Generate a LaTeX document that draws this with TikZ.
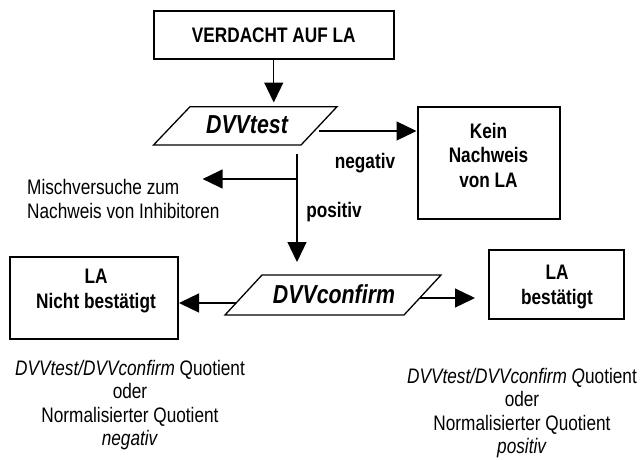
\documentclass[tikz,border=0pt]{standalone}
\usepackage{fontspec}
\setmainfont{Liberation Sans}[FakeStretch=0.82]
\usetikzlibrary{arrows.meta}
\begin{document}
\begin{tikzpicture}[x=1pt,y=-1pt,
  every node/.style={font=\fontsize{21}{24.5}\selectfont, inner sep=0pt, align=center},
  rbox/.style={draw, line width=2pt},
  para/.style={draw, line width=1.3pt, line join=miter},
  lbl/.style={font=\fontsize{21}{24.5}\selectfont\bfseries},
  plain/.style={font=\fontsize{21}{24.5}\selectfont},
  qtext/.style={font=\fontsize{21}{23.5}\selectfont},
  ptext/.style={font=\fontsize{26}{28}\selectfont\bfseries\itshape},
  arr/.style={-{Triangle[length=20pt,width=19pt]}, line width=1.3pt}]
\useasboundingbox (0,0) rectangle (642,460);
% boxes
\node[rbox, minimum width=240.5pt, minimum height=48.6pt, lbl] (verd) at (273.75,35) {VERDACHT AUF LA};
\draw[para] (190,106.7) coordinate (tTL) -- (337,106.7) coordinate (tTR) -- (301,145) coordinate (tBR) -- (153.5,145) coordinate (tBL) -- cycle;
\node[ptext] (testtxt) at (247,125) {DVVtest};
\node[rbox, minimum width=142pt, minimum height=112.3pt] (kein) at (488.5,163) {};
\node[lbl] (keintxt) at (488.5,155) {Kein\\Nachweis\\von LA};
\draw[para] (262,275) coordinate (cTL) -- (441,275) coordinate (cTR) -- (404,315) coordinate (cBR) -- (225,315) coordinate (cBL) -- cycle;
\node[ptext] (conftxt) at (334,294) {DVVconfirm};
\node[rbox, minimum width=168pt, minimum height=82pt] (nb) at (94,298) {};
\node[lbl] (nbtxt) at (96,291) {LA\\Nicht bestätigt};
\node[rbox, minimum width=135pt, minimum height=69pt] (bs) at (556.5,284.5) {};
\node[lbl] (bstxt) at (557,287) {LA\\bestätigt};
% labels
\node[lbl] (neg) at (365,163) {negativ};
\node[lbl] (pos) at (334,212) {positiv};
\node[plain, align=left, anchor=west] (misch) at (27,199) {Mischversuche zum\\Nachweis von Inhibitoren};
\node[qtext] (qleft) at (130,405) {\textit{DVVtest/DVVconfirm} Quotient\\oder\\Normalisierter Quotient\\\textit{negativ}};
\node[qtext] (qright) at (522,413) {\textit{DVVtest/DVVconfirm Q}uotient\\oder\\Normalisierter Quotient\\\textit{positiv}};
% connectors
\coordinate (t1) at (273.75,102.5);
\draw[arr] (verd.south) -- (t1);
\coordinate (a2) at (319,131);
\draw[arr] (a2) -- (a2 -| kein.west);
\coordinate (v1) at (297,154);
\coordinate (v2) at (297,262);
\coordinate (h1) at (297,179);
\coordinate (h2) at (202.6,179);
\draw[arr] (v1) -- (v2);
\draw[arr] (h1) -- (h2);
\coordinate (l1) at (236,303);
\draw[arr] (l1) -- (l1 -| nb.east);
\coordinate (r1) at (419.7,298);
\coordinate (r2) at (475,298);
\draw[arr] (r1) -- (r2);
\end{tikzpicture}
\end{document}
